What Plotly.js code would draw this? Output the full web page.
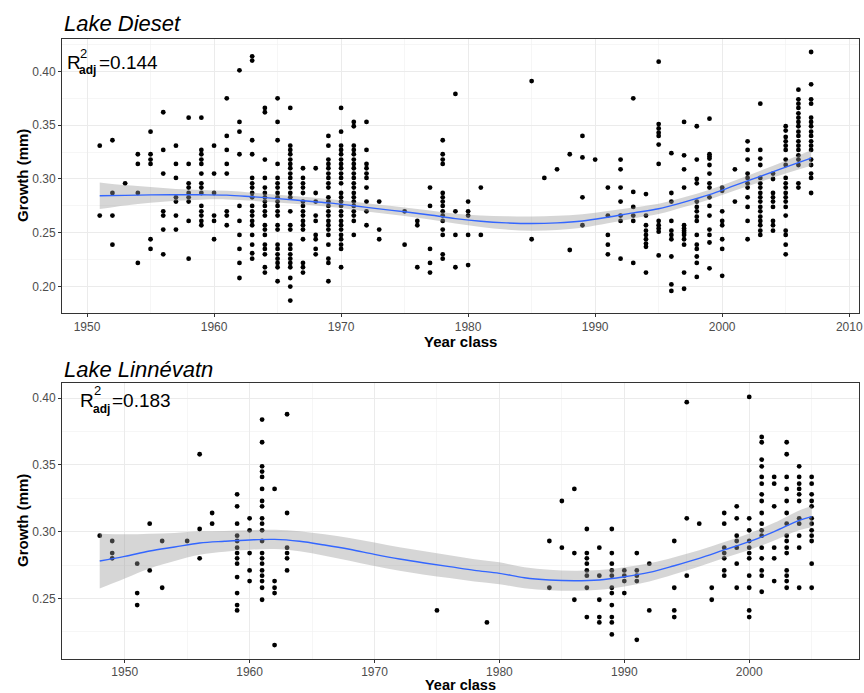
<!DOCTYPE html>
<html><head><meta charset="utf-8">
<script src="https://cdn.plot.ly/plotly-3.0.1.min.js"></script>
<style>html,body{margin:0;padding:0;background:#fff}#chart{width:864px;height:693px}</style>
</head><body><div id="chart"></div>
<script>
// ---------- Lake Dieset: growth per year class ----------
const diesetYears = [1951,1952,1953,1954,1955,1956,1957,1958,1959,1960,1961,1962,1963,1964,1965,1966,1967,1968,1969,1970,1971,1972,1973,1975,1976,1977,1978,1979,1980,1981,1985,1986,1987,1988,1989,1990,1991,1992,1993,1994,1995,1996,1997,1998,1999,2000,2001,2002,2003,2004,2005,2006,2007];
const diesetGrowth = [
 [0.331,0.266],
 [0.336,0.287,0.266,0.239],
 [0.296],
 [0.323,0.314,0.287,0.222],
 [0.344,0.323,0.318,0.314,0.244,0.235],
 [0.362,0.327,0.305,0.270,0.266,0.253,0.230],
 [0.331,0.314,0.301,0.283,0.279,0.266,0.253],
 [0.357,0.314,0.296,0.292,0.287,0.283,0.279,0.261,0.226],
 [0.357,0.327,0.323,0.318,0.314,0.305,0.296,0.292,0.287,0.275,0.270,0.266,0.261,0.257],
 [0.331,0.305,0.287,0.266,0.261,0.244],
 [0.375,0.340,0.327,0.314,0.305,0.270,0.266,0.257],
 [0.401,0.353,0.344,0.323,0.275,0.261,0.248,0.235,0.222,0.208],
 [0.414,0.410,0.336,0.323,0.301,0.296,0.292,0.287,0.283,0.275,0.270,0.266,0.261,0.257,0.248,0.239,0.231,0.226],
 [0.366,0.362,0.318,0.301,0.292,0.287,0.283,0.279,0.275,0.270,0.266,0.257,0.253,0.248,0.239,0.235,0.230,0.218,0.213],
 [0.375,0.353,0.336,0.314,0.301,0.296,0.292,0.287,0.283,0.279,0.275,0.270,0.266,0.257,0.253,0.239,0.235,0.230,0.226,0.222,0.218,0.205],
 [0.366,0.331,0.327,0.323,0.318,0.314,0.310,0.305,0.301,0.296,0.292,0.287,0.283,0.270,0.257,0.253,0.239,0.235,0.230,0.226,0.222,0.218,0.208,0.200,0.187],
 [0.310,0.301,0.296,0.292,0.287,0.279,0.275,0.270,0.266,0.261,0.257,0.253,0.244,0.222,0.218,0.213],
 [0.310,0.287,0.279,0.266,0.261,0.248,0.244,0.235,0.230],
 [0.340,0.331,0.318,0.314,0.310,0.305,0.301,0.296,0.292,0.283,0.279,0.275,0.270,0.266,0.261,0.257,0.253,0.248,0.239,0.226,0.222,0.205],
 [0.366,0.344,0.331,0.327,0.323,0.318,0.314,0.310,0.305,0.301,0.296,0.287,0.283,0.279,0.275,0.270,0.266,0.261,0.257,0.253,0.248,0.244,0.239,0.235,0.218],
 [0.353,0.349,0.331,0.327,0.323,0.318,0.314,0.310,0.305,0.301,0.296,0.292,0.287,0.283,0.279,0.275,0.270,0.266,0.261,0.248],
 [0.353,0.327,0.314,0.310,0.305,0.301,0.292,0.279,0.270,0.257],
 [0.279,0.253,0.244],
 [0.270,0.239],
 [0.261,0.257,0.218],
 [0.292,0.275,0.235,0.222,0.213],
 [0.336,0.323,0.318,0.314,0.287,0.283,0.279,0.275,0.270,0.266,0.261,0.253,0.248,0.230,0.226],
 [0.379,0.270,0.248,0.218],
 [0.279,0.270,0.266,0.248,0.220],
 [0.292,0.248],
 [0.391,0.244],
 [0.301],
 [0.309],
 [0.323,0.234],
 [0.340,0.320,0.283,0.257],
 [0.318],
 [0.292,0.266,0.248,0.239,0.230],
 [0.318,0.309,0.292,0.279,0.266,0.261,0.226],
 [0.375,0.288,0.274,0.266,0.261,0.222],
 [0.286,0.266,0.257,0.252,0.248,0.244,0.240,0.237,0.213],
 [0.409,0.351,0.347,0.343,0.340,0.332,0.314,0.261,0.257,0.254,0.251,0.229],
 [0.324,0.287,0.279,0.261,0.252,0.248,0.244,0.228,0.202,0.196],
 [0.353,0.322,0.309,0.292,0.257,0.254,0.252,0.250,0.248,0.244,0.239,0.213,0.198],
 [0.349,0.318,0.300,0.296,0.279,0.274,0.270,0.265,0.261,0.248,0.239,0.235,0.228,0.222,0.209],
 [0.356,0.323,0.321,0.319,0.313,0.305,0.296,0.292,0.283,0.275,0.266,0.253,0.248,0.241,0.217],
 [0.292,0.289,0.270,0.261,0.257,0.244,0.235,0.210],
 [0.309,0.279],
 [0.335,0.327,0.318,0.305,0.301,0.296,0.292,0.283,0.274,0.261,0.244],
 [0.370,0.327,0.319,0.313,0.301,0.296,0.292,0.287,0.283,0.279,0.274,0.270,0.265,0.261,0.257,0.252,0.248],
 [0.305,0.300,0.287,0.283,0.279,0.274,0.261,0.257,0.252],
 [0.349,0.345,0.339,0.335,0.331,0.327,0.318,0.313,0.301,0.296,0.292,0.287,0.283,0.279,0.274,0.266,0.252,0.248,0.239,0.230],
 [0.383,0.374,0.370,0.366,0.361,0.357,0.353,0.349,0.344,0.340,0.335,0.331,0.327,0.322,0.318,0.313,0.296,0.292],
 [0.418,0.388,0.374,0.370,0.357,0.353,0.349,0.344,0.340,0.335,0.331,0.327,0.318,0.313,0.305,0.301,0.287]
];
const diesetFitYear = [1951,1953,1955,1957,1959,1961,1963,1965,1967,1969,1971,1973,1975,1977,1979,1981,1983,1985,1987,1989,1991,1993,1995,1997,1999,2001,2003,2005,2007];
const diesetFit   = [0.2844,0.2848,0.2852,0.2853,0.2853,0.2850,0.2835,0.2818,0.2798,0.2778,0.2752,0.2722,0.2695,0.2665,0.2632,0.2607,0.2592,0.2586,0.2592,0.2610,0.2645,0.2685,0.2723,0.2785,0.2855,0.2940,0.3025,0.3110,0.3194];
const diesetLower = [0.2720,0.2753,0.2779,0.2798,0.2808,0.2810,0.2797,0.2782,0.2762,0.2742,0.2715,0.2684,0.2655,0.2623,0.2586,0.2553,0.2530,0.2520,0.2526,0.2547,0.2588,0.2634,0.2675,0.2740,0.2810,0.2893,0.2973,0.3050,0.3122];
const diesetUpper = [0.2968,0.2943,0.2925,0.2908,0.2898,0.2890,0.2873,0.2854,0.2834,0.2814,0.2789,0.2760,0.2735,0.2707,0.2678,0.2661,0.2654,0.2652,0.2658,0.2673,0.2702,0.2736,0.2771,0.2830,0.2900,0.2987,0.3077,0.3170,0.3266];

// ---------- Lake Linnévatn ----------
const linneYears = [1948,1949,1951,1952,1953,1955,1956,1957,1959,1960,1961,1962,1963,1975,1979,1984,1985,1986,1987,1988,1989,1990,1991,1992,1994,1995,1996,1997,1998,1999,2000,2001,2002,2003,2004,2005];
const linneGrowth = [
 [0.297],
 [0.293,0.284,0.280],
 [0.276,0.254,0.245],
 [0.306,0.271],
 [0.293,0.258],
 [0.293],
 [0.358,0.302,0.280],
 [0.314,0.306],
 [0.328,0.319,0.306,0.297,0.293,0.288,0.284,0.280,0.276,0.266,0.254,0.245,0.241],
 [0.310,0.301,0.284,0.271,0.263],
 [0.384,0.367,0.349,0.345,0.341,0.332,0.323,0.319,0.310,0.306,0.301,0.293,0.284,0.280,0.276,0.271,0.267,0.263,0.258,0.249],
 [0.332,0.263,0.258,0.254,0.215],
 [0.388,0.314,0.288,0.284,0.280,0.271],
 [0.241],
 [0.232],
 [0.293,0.258],
 [0.323,0.288],
 [0.332,0.284,0.249],
 [0.302,0.284,0.280,0.276,0.271,0.267,0.258,0.236],
 [0.288,0.267,0.249,0.236,0.232],
 [0.302,0.284,0.276,0.271,0.267,0.258,0.254,0.245,0.236,0.232,0.223],
 [0.271,0.267,0.263,0.254],
 [0.284,0.271,0.267,0.263,0.219],
 [0.276,0.241],
 [0.293,0.258,0.241,0.236],
 [0.397,0.310,0.267],
 [0.306],
 [0.258,0.249],
 [0.314,0.306,0.288,0.284,0.280,0.271,0.267],
 [0.319,0.310,0.297,0.293,0.288,0.276,0.258],
 [0.401,0.310,0.301,0.293,0.288,0.284,0.280,0.267,0.258,0.241,0.236],
 [0.371,0.367,0.354,0.349,0.341,0.336,0.328,0.323,0.314,0.306,0.301,0.297,0.288,0.280,0.271,0.267,0.255],
 [0.341,0.336,0.319,0.288,0.280,0.263],
 [0.367,0.358,0.341,0.332,0.323,0.314,0.306,0.297,0.293,0.288,0.284,0.271,0.267,0.263,0.258],
 [0.349,0.341,0.336,0.332,0.328,0.323,0.310,0.306,0.297,0.288,0.258],
 [0.341,0.336,0.328,0.323,0.319,0.310,0.306,0.301,0.297,0.293,0.276,0.258]
];
const linneFitYear = [1948,1950,1952,1954,1956,1958,1960,1962,1964,1966,1968,1970,1972,1974,1976,1978,1980,1982,1984,1986,1988,1990,1992,1994,1996,1998,2000,2002,2004,2005];
const linneFit   = [0.2780,0.2815,0.2855,0.2885,0.2915,0.2928,0.2938,0.2942,0.2928,0.2900,0.2868,0.2830,0.2795,0.2765,0.2738,0.2710,0.2688,0.2655,0.2638,0.2632,0.2638,0.2662,0.2695,0.2745,0.2800,0.2863,0.2925,0.3000,0.3085,0.3113];
const linneLower = [0.2575,0.2650,0.2725,0.2780,0.2827,0.2850,0.2865,0.2870,0.2853,0.2820,0.2783,0.2742,0.2707,0.2677,0.2652,0.2626,0.2606,0.2577,0.2562,0.2557,0.2564,0.2590,0.2627,0.2681,0.2740,0.2803,0.2863,0.2934,0.3011,0.3033];
const linneUpper = [0.2985,0.2980,0.2985,0.2990,0.3003,0.3006,0.3011,0.3014,0.3003,0.2980,0.2953,0.2918,0.2883,0.2853,0.2824,0.2794,0.2770,0.2733,0.2714,0.2707,0.2712,0.2734,0.2763,0.2809,0.2860,0.2923,0.2987,0.3066,0.3159,0.3193];

const panelTitles = ["Lake Dieset", "Lake Linnévatn"];
const r2Values = ["0.144", "0.183"];
const xTitle = "Year class";
const yTitle = "Growth (mm)";

function expand(years, groups) {
  const x = [], y = [];
  years.forEach((yr, i) => groups[i].forEach(v => { x.push(yr); y.push(v); }));
  return {x, y};
}

const FONT = "Liberation Sans, Arial, sans-serif";
const W = 864, H = 693, L = 62, R = 5;
const px = p => (p - L) / (W - L - R);
const py = p => 1 - p / H;

const d1 = expand(diesetYears, diesetGrowth);
const d2 = expand(linneYears, linneGrowth);

function panelTraces(pts, fy, fit, lo, hi, xa, ya) {
  return [
    {type:'scatter', mode:'markers', x:pts.x, y:pts.y, xaxis:xa, yaxis:ya,
     marker:{color:'#000000', size:4.8}, hoverinfo:'skip'},
    {type:'scatter', mode:'lines', x:fy, y:lo, xaxis:xa, yaxis:ya,
     line:{width:0, shape:'spline', color:'rgba(0,0,0,0)'}, hoverinfo:'skip'},
    {type:'scatter', mode:'lines', x:fy, y:hi, xaxis:xa, yaxis:ya, fill:'tonexty',
     fillcolor:'rgba(153,153,153,0.4)', line:{width:0, shape:'spline', color:'rgba(0,0,0,0)'}, hoverinfo:'skip'},
    {type:'scatter', mode:'lines', x:fy, y:fit, xaxis:xa, yaxis:ya,
     line:{width:1.4, color:'#3366FF', shape:'spline'}, hoverinfo:'skip'}
  ];
}

const data = [
  ...panelTraces(d1, diesetFitYear, diesetFit, diesetLower, diesetUpper, 'x', 'y'),
  ...panelTraces(d2, linneFitYear, linneFit, linneLower, linneUpper, 'x2', 'y2')
];

function xAxis(range, anchor) {
  return {domain:[0,1], range:range, anchor:anchor, dtick:10, tick0:1950, tickformat:'d',
    ticks:'outside', ticklen:3, tickwidth:1, tickcolor:'#333333', ticklabelstandoff:-1,
    showline:true, mirror:true, linecolor:'#333333', linewidth:1,
    showgrid:true, gridcolor:'#EBEBEB', gridwidth:1, zeroline:false,
    minor:{dtick:5, tick0:1950, showgrid:true, gridcolor:'#F2F2F2', gridwidth:0.7, ticks:''},
    tickfont:{family:FONT, size:12, color:'#4D4D4D'}, fixedrange:true};
}
function yAxis(range, domain, anchor) {
  return {domain:domain, range:range, anchor:anchor, dtick:0.05, tick0:0.2, tickformat:'.2f',
    ticks:'outside', ticklen:3, tickwidth:1, tickcolor:'#333333',
    showline:true, mirror:true, linecolor:'#333333', linewidth:1,
    showgrid:true, gridcolor:'#EBEBEB', gridwidth:1, zeroline:false,
    minor:{dtick:0.025, tick0:0.2, showgrid:true, gridcolor:'#F2F2F2', gridwidth:0.7, ticks:''},
    tickfont:{family:FONT, size:12, color:'#4D4D4D'}, fixedrange:true};
}

function ann(text, x, y, size, opts) {
  return Object.assign({text:text, xref:'paper', yref:'paper', x:x, y:y,
    xanchor:'left', yanchor:'middle', showarrow:false,
    font:{family:FONT, size:size, color:'#000000'}}, opts || {});
}

const annotations = [
  ann('<i>' + panelTitles[0] + '</i>', px(62), py(23.5), 22),
  ann('<i>' + panelTitles[1] + '</i>', px(62), py(369.5), 22),
  // R2 adj (top)
  ann('R', px(65), py(62.3), 19),
  ann('2', px(78), py(53), 13),
  ann('<b>adj</b>', px(77), py(70.5), 12),
  ann('=' + r2Values[0], px(96.5), py(62.3), 19),
  // R2 adj (bottom)
  ann('R', px(78), py(400.3), 19),
  ann('2', px(91.5), py(391), 13),
  ann('<b>adj</b>', px(91), py(408.5), 12),
  ann('=' + r2Values[1], px(110), py(400.3), 19),
  // axis titles
  ann('<b>' + xTitle + '</b>', 0.5, py(342), 15, {xanchor:'center'}),
  ann('<b>' + xTitle + '</b>', 0.5, py(684.5), 14.5, {xanchor:'center', borderpad:0}),
  ann('<b>' + yTitle + '</b>', px(22), py(176), 15, {xanchor:'center', textangle:-90}),
  ann('<b>' + yTitle + '</b>', px(22), py(521), 15, {xanchor:'center', textangle:-90})
];

const layout = {
  width:W, height:H, showlegend:false,
  margin:{l:L, r:R, t:0, b:0},
  paper_bgcolor:'#FFFFFF', plot_bgcolor:'#FFFFFF',
  font:{family:FONT},
  xaxis: xAxis([1948.03, 2010.77], 'y'),
  yaxis: yAxis([0.1752, 0.4298], [1 - 313.3/H, 1 - 39.3/H], 'x'),
  xaxis2: xAxis([1944.98, 2008.79], 'y2'),
  yaxis2: yAxis([0.2046, 0.4114], [1 - 659/H, 1 - 383/H], 'x2'),
  annotations: annotations
};

Plotly.newPlot('chart', data, layout, {displayModeBar:false, staticPlot:true});
</script>
</body></html>
